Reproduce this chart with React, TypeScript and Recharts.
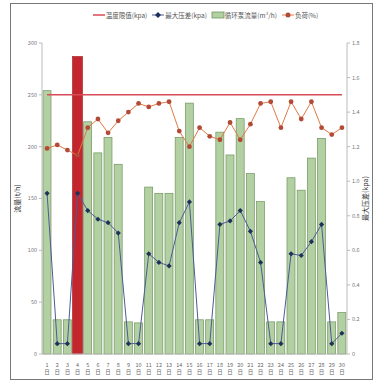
import React from "react";
import { ComposedChart, Bar, Line, XAxis, YAxis, Label } from "recharts";

// days of the month (x categories)
const days = [
  "1", "2", "3", "4", "5", "6", "7", "8", "9", "10",
  "11", "12", "13", "14", "15", "16", "17", "18", "19", "20",
  "21", "22", "23", "24", "25", "26", "27", "28", "29", "30",
];

// 循环泵流量 (left axis)
const flow = [
  254, 33, 33, 287, 224, 194, 209, 183, 31, 30,
  161, 155, 155, 209, 242, 33, 33, 214, 192, 227,
  174, 147, 31, 31, 170, 158, 189, 208, 31, 40,
];

// 最大压差 (right axis)
const pressure = [
  0.93, 0.06, 0.06, 0.93, 0.83, 0.78, 0.76, 0.7, 0.06, 0.06,
  0.58, 0.53, 0.51, 0.76, 0.88, 0.06, 0.06, 0.75, 0.77, 0.83,
  0.71, 0.53, 0.06, 0.06, 0.58, 0.57, 0.65, 0.75, 0.06, 0.12,
];

// 负荷 (right axis)
const load = [
  1.19, 1.21, 1.18, 1.15, 1.31, 1.36, 1.28, 1.35, 1.4, 1.45,
  1.43, 1.45, 1.46, 1.29, 1.2, 1.31, 1.26, 1.24, 1.34, 1.24,
  1.33, 1.45, 1.46, 1.31, 1.46, 1.36, 1.46, 1.31, 1.27, 1.31,
];

const limitValue = 250;
const highlightIndex = 3;

const leftTicks = [0, 50, 100, 150, 200, 250, 300];
const rightTicks = [0, 0.2, 0.4, 0.6, 0.8, 1, 1.2, 1.4, 1.6, 1.8];

const data = days.map((d, i) => ({
  day: d,
  flow: flow[i],
  pressure: pressure[i],
  load: load[i],
  limit: limitValue,
}));

const FONT = "'Noto Sans CJK SC', 'Noto Sans', sans-serif";

function BarShape(props: any) {
  const { x, y, width, height, index } = props;
  if (index === highlightIndex) {
    return <rect x={x - 1} y={y} width={width + 2} height={height} fill="#c3262c" stroke="#a01a20" strokeWidth={0.6} />;
  }
  return <rect x={x} y={y} width={width} height={height} fill="#b3d0a2" stroke="#6f955f" strokeWidth={0.7} />;
}

function Diamond(props: any) {
  const { cx, cy } = props;
  if (cx == null || cy == null) return null;
  const r = 2.6;
  return (
    <polygon
      points={`${cx},${cy - r} ${cx + r},${cy} ${cx},${cy + r} ${cx - r},${cy}`}
      fill="#1d3159"
    />
  );
}

function DayTick(props: any) {
  const { x, y, payload } = props;
  return (
    <g transform={`translate(${x},${y})`}>
      <text x={0} y={5} textAnchor="middle" fontSize={5.5} fill="#666" fontFamily={FONT}>
        {payload.value}
      </text>
      <text x={0} y={12} textAnchor="middle" fontSize={5.5} fill="#666" fontFamily={FONT}>
        日
      </text>
    </g>
  );
}

function LegendBar() {
  const txt: React.CSSProperties = { fontSize: 6.5, color: "#555", marginRight: 4 };
  return (
    <div
      style={{
        position: "absolute", left: 0, top: 10, width: 374, display: "flex",
        justifyContent: "center", alignItems: "center", fontFamily: FONT, paddingLeft: 40,
        boxSizing: "border-box",
      }}
    >
      <svg width={14} height={8}><line x1={1} y1={4} x2={13} y2={4} stroke="#d84a55" strokeWidth={1.5} /></svg>
      <span style={txt}>温度限值(kpa)</span>
      <svg width={14} height={8}>
        <line x1={1} y1={4} x2={13} y2={4} stroke="#4b5b95" strokeWidth={1} />
        <polygon points="7,1 10,4 7,7 4,4" fill="#1d3159" />
      </svg>
      <span style={txt}>最大压差(kpa)</span>
      <svg width={14} height={8}><rect x={1} y={1} width={12} height={6} fill="#b3d0a2" stroke="#6f955f" strokeWidth={0.8} /></svg>
      <span style={txt}>循环泵流量(m³/h)</span>
      <svg width={14} height={8}>
        <line x1={1} y1={4} x2={13} y2={4} stroke="#e07a45" strokeWidth={1} />
        <circle cx={7} cy={4} r={2.5} fill="#b24a35" />
      </svg>
      <span style={txt}>负荷(%)</span>
    </div>
  );
}

export default function App() {
  return (
    <div style={{ position: "absolute", left: 0, top: 0, width: 374, height: 383, background: "#fff" }}>
      <div
        style={{
          position: "absolute", left: 10, top: 3, width: 361, height: 375,
          border: "1px solid #777",
        }}
      />
      <LegendBar />
      <ComposedChart
        width={374}
        height={383}
        data={data}
        margin={{ top: 43, right: 0, bottom: 0, left: 0 }}
        barCategoryGap={2}
        style={{ position: "absolute", left: 0, top: 0 }}
      >
        <XAxis
          dataKey="day"
          interval={0}
          tick={<DayTick />}
          tickLine={false}
          axisLine={{ stroke: "#bbb" }}
          height={29}
        />
        <YAxis
          yAxisId="left"
          width={42}
          domain={[0, 300]}
          ticks={leftTicks}
          tick={{ fontSize: 5.5, fill: "#777", fontFamily: FONT }}
          tickSize={3}
          tickLine={{ stroke: "#bbb" }}
          axisLine={{ stroke: "#bbb" }}
        >
          <Label
            value="流量(t/h)"
            angle={-90}
            position="insideLeft"
            offset={18}
            style={{ fontSize: 7, fill: "#333", fontFamily: FONT, textAnchor: "middle" }}
          />
        </YAxis>
        <YAxis
          yAxisId="right"
          orientation="right"
          width={27}
          domain={[0, 1.8]}
          ticks={rightTicks}
          tickFormatter={(v: number) => (v === 0 ? "0" : v.toFixed(1))}
          tick={{ fontSize: 5.5, fill: "#777", fontFamily: FONT }}
          tickSize={3}
          tickLine={{ stroke: "#bbb" }}
          axisLine={{ stroke: "#bbb" }}
        >
          <Label
            value="最大压差(kpa)"
            angle={-90}
            position="insideRight"
            offset={8}
            style={{ fontSize: 7, fill: "#333", fontFamily: FONT, textAnchor: "middle" }}
          />
        </YAxis>
        <Bar
          yAxisId="left"
          dataKey="flow"
          barSize={8}
          shape={<BarShape />}
          isAnimationActive={false}
        />
        <Line
          yAxisId="left"
          dataKey="limit"
          stroke="#d84a55"
          strokeWidth={1.5}
          dot={false}
          isAnimationActive={false}
        />
        <Line
          yAxisId="right"
          dataKey="pressure"
          stroke="#4b5b95"
          strokeWidth={1}
          dot={<Diamond />}
          isAnimationActive={false}
        />
        <Line
          yAxisId="right"
          dataKey="load"
          stroke="#e07a45"
          strokeWidth={1}
          dot={{ r: 2.4, fill: "#b24a35", stroke: "none" }}
          isAnimationActive={false}
        />
      </ComposedChart>
    </div>
  );
}
